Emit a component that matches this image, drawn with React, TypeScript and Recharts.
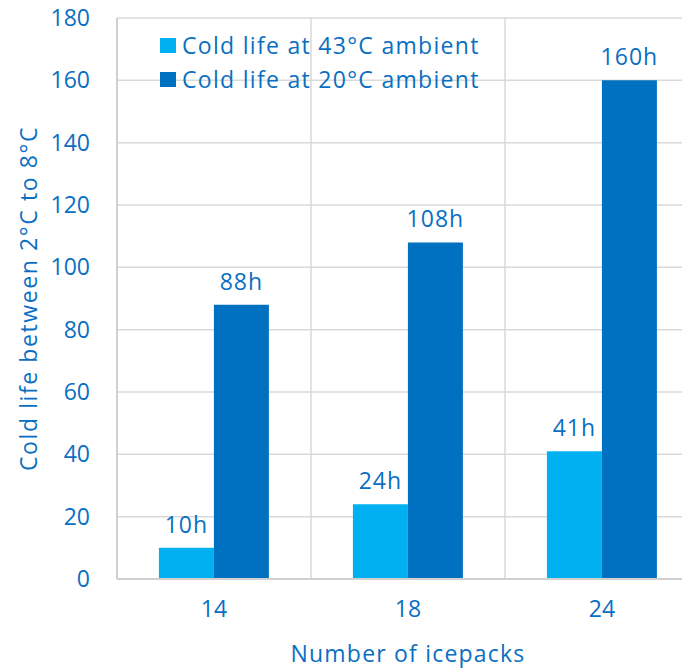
import { BarChart, Bar, XAxis, YAxis, CartesianGrid, LabelList, Label } from 'recharts';

const categories = ['14', '18', '24'];
const cold43 = [10, 24, 41];
const cold20 = [88, 108, 160];
const yTicks = [0, 20, 40, 60, 80, 100, 120, 140, 160, 180];
const categoryBounds = [1, 2, 3];

const data = categories.map((c, i) => ({ packs: c, idx: i, c43: cold43[i], c20: cold20[i] }));

const BLUE_TEXT = '#0a6fc2';
const LIGHT = '#00b0f0';
const DARK = '#0070c0';
const FONT = '"Open Sans", sans-serif';
const FS = 23;

const legendItems = [
  { label: 'Cold life at 43°C ambient', color: LIGHT },
  { label: 'Cold life at 20°C ambient', color: DARK },
];

export default function App() {
  return (
    <div style={{ position: 'absolute', left: 0, top: 0, width: 682, height: 668, overflow: 'hidden', background: '#fff' }}>
      <BarChart
        width={699}
        height={668}
        data={data}
        margin={{ top: 18, right: 0, bottom: 0, left: 0 }}
        barCategoryGap="21.6%"
        barGap={0}
        style={{ fontFamily: FONT }}
      >
        <CartesianGrid xAxisId="grid" stroke="#d9d9d9" strokeWidth={1.5} />
        <XAxis
          dataKey="packs"
          axisLine={{ stroke: '#d0d0d0', strokeWidth: 2 }}
          tickLine={false}
          tickSize={0}
          tickMargin={22}
          height={89}
          tick={{ fill: BLUE_TEXT, fontSize: FS }}
        >
          <Label value="Number of icepacks" position="insideBottom" offset={6} fill={BLUE_TEXT} fontSize={FS} style={{ letterSpacing: '1.2px' }} />
        </XAxis>
        <XAxis xAxisId="grid" type="number" dataKey="idx" domain={[0, 3]} ticks={categoryBounds} hide />
        <YAxis
          width={117}
          domain={[0, 180]}
          ticks={yTicks}
          axisLine={{ stroke: '#d0d0d0', strokeWidth: 2 }}
          tickLine={false}
          tickSize={0}
          tickMargin={27}
          tick={{ fill: BLUE_TEXT, fontSize: FS }}
        >
          <Label value="Cold life between 2°C to 8°C" angle={-90} position="center" dx={-30} fill={BLUE_TEXT} fontSize={FS} style={{ letterSpacing: '1.6px' }} />
        </YAxis>
        <Bar dataKey="c43" fill={LIGHT} isAnimationActive={false}>
          <LabelList dataKey="c43" position="top" offset={15} formatter={(v: any) => `${v}h`} fill={BLUE_TEXT} fontSize={FS} style={{ letterSpacing: '1px' }} />
        </Bar>
        <Bar dataKey="c20" fill={DARK} isAnimationActive={false}>
          <LabelList dataKey="c20" position="top" offset={15} formatter={(v: any) => `${v}h`} fill={BLUE_TEXT} fontSize={FS} style={{ letterSpacing: '1px' }} />
        </Bar>
      </BarChart>
      <div style={{ position: 'absolute', left: 160, top: 28, fontFamily: FONT, fontSize: FS, color: BLUE_TEXT, lineHeight: '34px', letterSpacing: '1.3px' }}>
        {legendItems.map((it) => (
          <div key={it.label} style={{ display: 'flex', alignItems: 'center', height: 34, whiteSpace: 'nowrap' }}>
            <span style={{ width: 16, height: 15, background: it.color, marginRight: 6, display: 'inline-block' }} />
            <span>{it.label}</span>
          </div>
        ))}
      </div>
    </div>
  );
}
